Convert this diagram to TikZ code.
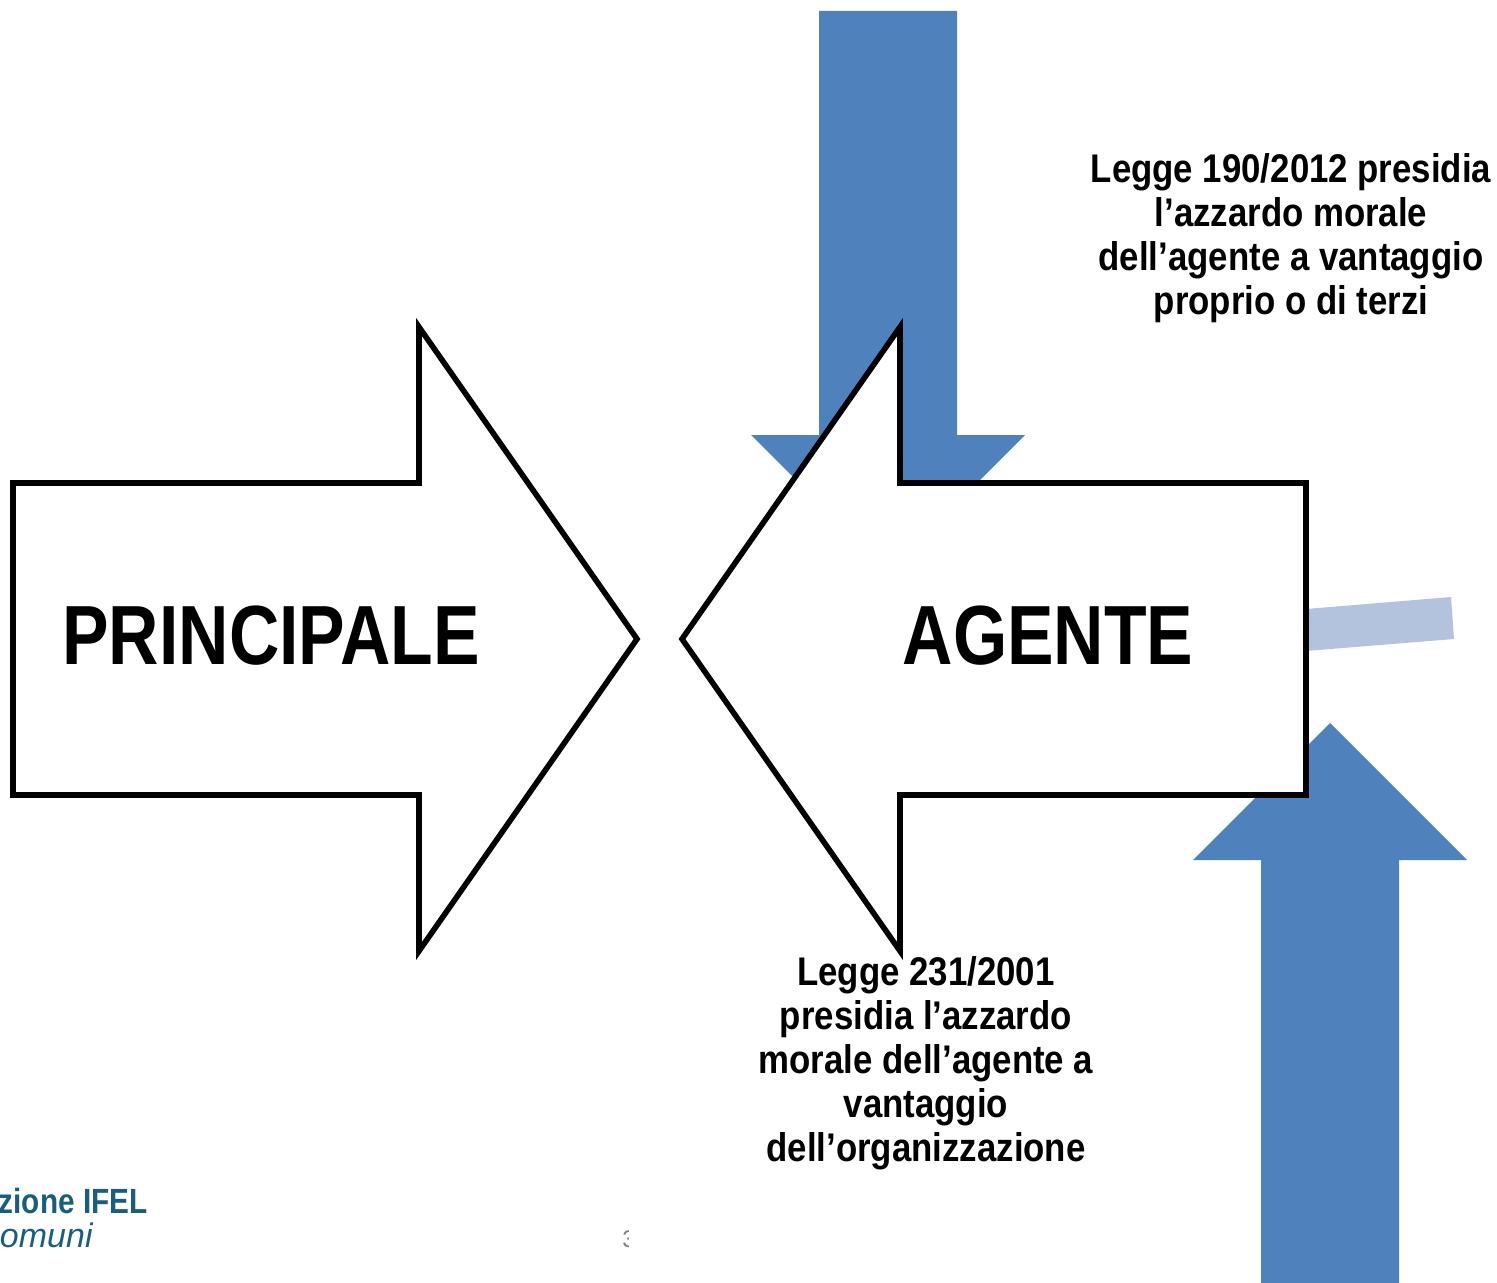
\documentclass[tikz,border=0pt]{standalone}
\usepackage{fontspec}
\setmainfont{Liberation Sans}
\newfontfamily\narrowfont[FakeStretch=0.87]{Liberation Sans}
\newfontfamily\bigfont[FakeStretch=0.83]{Liberation Sans}
\newfontfamily\logofont[FakeStretch=0.85]{Liberation Sans}
\usetikzlibrary{positioning}
\definecolor{arrowblue}{HTML}{4F81BD}
\definecolor{barblue}{HTML}{B3C3DD}
\definecolor{logoblue}{HTML}{1B5E7B}
\tikzset{bluearrow/.style={fill=arrowblue,draw=none}}
\tikzset{bigarrow/.style={fill=white,draw=black,line width=2.8pt,miter limit=10}}
\tikzset{biglabel/.style={font=\bigfont\fontsize{42}{42}\selectfont\bfseries,inner sep=0pt}}
\tikzset{lawlabel/.style={font=\narrowfont\fontsize{20}{22}\selectfont\bfseries,align=center,inner sep=0pt}}
\begin{document}
\begin{tikzpicture}[x=0.5pt,y=-0.5pt]
\useasboundingbox (0,0) rectangle (1497,1283);
% blue arrows and faded bar behind
\fill[bluearrow] (819,11) -- (957,11) -- (957,435) -- (1025,435) -- (888,572) -- (751,435) -- (819,435) -- cycle;
\fill[bluearrow] (1261,1283) -- (1399,1283) -- (1399,860) -- (1467,860) -- (1330,723) -- (1193,860) -- (1261,860) -- cycle;
\fill[barblue] (1300,609.5) -- (1451,597) -- (1454,639) -- (1300,651.5) -- cycle;
% the two big arrows
\draw[bigarrow] (13,483) -- (419,483) -- (419,327) -- (637,639) -- (419,951) -- (419,795) -- (13,795) -- cycle;
\draw[bigarrow] (1306,483) -- (900,483) -- (900,327) -- (682,639) -- (900,951) -- (900,795) -- (1306,795) -- cycle;
\node[biglabel] (principale) at (271,636) {PRINCIPALE};
\node[biglabel] (agente) at (1048,636) {AGENTE};
\node[lawlabel] (L190) at (1291,238) {Legge 190/2012 presidia\\l’azzardo morale\\dell’agente a vantaggio\\proprio o di terzi};
\node[lawlabel] (L231) at (926,1063) {Legge 231/2001\\presidia l’azzardo\\morale dell’agente a\\vantaggio\\dell’organizzazione};
% logo and page number, cut off
\node[anchor=base east,inner sep=0pt,text=logoblue,font=\logofont\fontsize{17.5}{18}\selectfont\bfseries] (logoA) at (148,1213) {zione IFEL};
\node[anchor=base east,inner sep=0pt,text=logoblue,font=\fontsize{17}{18}\selectfont\itshape] (logoB) at (93,1247) {omuni};
\begin{scope}
\clip (600,1200) rectangle (628,1270);
\node[anchor=base west,inner sep=0pt,text=black!50,font=\fontsize{12}{12}\selectfont] (pagenum) at (622,1247) {3};
\end{scope}
\end{tikzpicture}
\end{document}
